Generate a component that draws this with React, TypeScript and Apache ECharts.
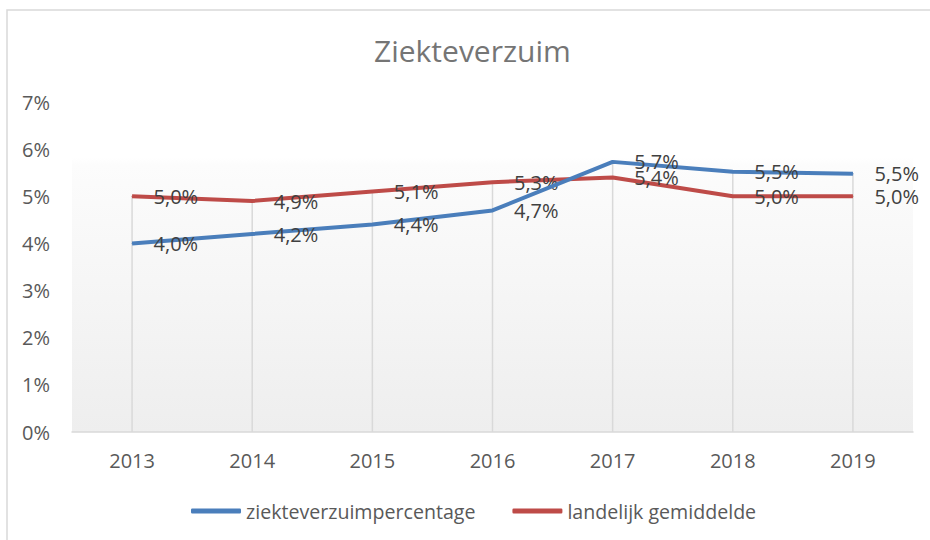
import React, { useEffect, useRef } from "react";
import * as echarts from "echarts";

const years = ["2013", "2014", "2015", "2016", "2017", "2018", "2019"];
const ziekteverzuim = [4.0, 4.2, 4.4, 4.7, 5.73, 5.52, 5.48];
const landelijk = [5.0, 4.9, 5.1, 5.3, 5.4, 5.0, 5.0];
const seriesNames = ["ziekteverzuimpercentage", "landelijk gemiddelde"];
const yTicks = { min: 0, max: 7, interval: 1 };

const FONT = "'Open Sans', 'Noto Sans', sans-serif";

export default function App() {
  const ref = useRef<HTMLDivElement>(null);
  useEffect(() => {
    document.body.style.margin = "0";
    const chart = echarts.init(ref.current!, undefined, { renderer: "svg" });
    const dropValues = years.map((_, i) => Math.max(ziekteverzuim[i], landelijk[i]));
    const fmt = (p: any) => Number(p.value).toFixed(1).replace(".", ",") + "%";
    const lbl = {
      show: true,
      position: "right",
      distance: 21,
      offset: [0, 2],
      color: "#404040",
      fontSize: 20,
      fontFamily: FONT,
      formatter: fmt,
    };
    chart.setOption({
      animation: false,
      backgroundColor: "#ffffff",
      textStyle: { fontFamily: FONT },
      title: {
        text: "Ziekteverzuim",
        left: 369,
        top: 30,
        textStyle: { fontSize: 30, fontWeight: "normal", color: "#757575", fontFamily: FONT },
      },
      graphic: [
        {
          type: "rect",
          shape: { x: 7, y: 10, width: 1000, height: 1000 },
          style: { fill: "none", stroke: "#d9d9d9", lineWidth: 1.5 },
          silent: true,
          z: -10,
        },
      ],
      legend: {
        left: 186,
        top: 496,
        itemWidth: 50,
        itemHeight: 5,
        itemGap: 37,
        icon: "roundRect",
        data: seriesNames,
        textStyle: { fontSize: 19.6, color: "#595959", fontFamily: FONT },
      },
      grid: {
        left: 72,
        right: 17,
        top: 102,
        bottom: 108,
        show: true,
        borderWidth: 0,
        backgroundColor: new echarts.graphic.LinearGradient(0, 0, 0, 1, [
          { offset: 0, color: "#ffffff" },
          { offset: 0.17, color: "#ffffff" },
          { offset: 0.19, color: "#fcfcfc" },
          { offset: 1, color: "#eeeeee" },
        ]),
      },
      xAxis: {
        type: "category",
        data: years,
        boundaryGap: true,
        axisLine: { lineStyle: { color: "#d9d9d9", width: 1.5 } },
        axisTick: { show: false },
        splitLine: { show: false },
        axisLabel: { color: "#595959", fontSize: 20, margin: 18, fontFamily: FONT },
      },
      yAxis: {
        type: "value",
        min: yTicks.min,
        max: yTicks.max,
        interval: yTicks.interval,
        axisLine: { show: false },
        axisTick: { show: false },
        splitLine: { show: false },
        axisLabel: {
          color: "#595959",
          fontSize: 20,
          margin: 22,
          fontFamily: FONT,
          formatter: (v: number) => v + "%",
        },
      },
      series: [
        {
          type: "bar",
          data: dropValues,
          barWidth: 1.5,
          itemStyle: { color: "#d9d9d9" },
          silent: true,
          z: 1,
        },
        {
          name: seriesNames[0],
          type: "line",
          data: ziekteverzuim,
          symbol: "circle",
          symbolSize: 1,
          showSymbol: true,
          lineStyle: { color: "#4a7ebb", width: 4 },
          itemStyle: { color: "#4a7ebb" },
          label: lbl,
          labelLayout: { hideOverlap: false },
          z: 3,
        },
        {
          name: seriesNames[1],
          type: "line",
          data: landelijk,
          symbol: "circle",
          symbolSize: 1,
          showSymbol: true,
          lineStyle: { color: "#be4b48", width: 4 },
          itemStyle: { color: "#be4b48" },
          label: lbl,
          labelLayout: { hideOverlap: false },
          z: 2,
        },
      ],
    });
    return () => chart.dispose();
  }, []);
  return (
    <div
      ref={ref}
      style={{ position: "absolute", left: 0, top: 0, width: 930, height: 540 }}
    />
  );
}
